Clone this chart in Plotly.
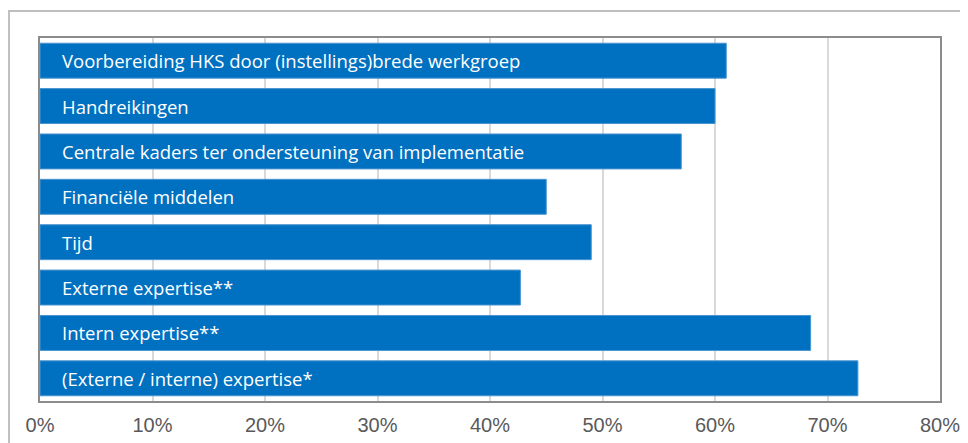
import plotly.graph_objects as go

categories = [
    "Voorbereiding HKS door (instellings)brede werkgroep",
    "Handreikingen",
    "Centrale kaders ter ondersteuning van implementatie",
    "Financiële middelen",
    "Tijd",
    "Externe expertise**",
    "Intern expertise**",
    "(Externe / interne) expertise*",
]
values = [61.0, 60.0, 57.0, 45.0, 49.0, 42.7, 68.5, 72.7]
tick_values = [0, 10, 20, 30, 40, 50, 60, 70, 80]
tick_labels = ["0%", "10%", "20%", "30%", "40%", "50%", "60%", "70%", "80%"]

fig = go.Figure()
fig.add_trace(go.Bar(
    x=values,
    y=categories,
    orientation="h",
    marker=dict(color="#0070C0", line=dict(color="#4A95D0", width=1)),
    hoverinfo="x+y",
))

for cat in categories:
    fig.add_annotation(
        x=0, y=cat, xref="x", yref="y",
        text=cat, showarrow=False,
        xanchor="left", yanchor="middle", xshift=20,
        font=dict(family="Open Sans", size=18.5, color="white"),
    )

fig.update_layout(
    width=960, height=435,
    margin=dict(l=32, r=28, t=30, b=42),
    paper_bgcolor="white",
    plot_bgcolor="white",
    bargap=0.23,
    showlegend=False,
    xaxis=dict(
        range=[0, 80],
        tickvals=tick_values,
        ticktext=tick_labels,
        showgrid=True,
        gridcolor="#D9D9D9",
        gridwidth=1.5,
        zeroline=False,
        showline=True,
        linecolor="#8C8C8C",
        linewidth=1.5,
        mirror=True,
        ticks="outside",
        ticklen=5,
        tickcolor="rgba(0,0,0,0)",
        tickfont=dict(family="Liberation Sans, Arial", size=20, color="#595959"),
        automargin=False,
        ticklabeloverflow="allow",
    ),
    yaxis=dict(
        autorange="reversed",
        showticklabels=False,
        showgrid=False,
        zeroline=False,
        showline=True,
        linecolor="#8C8C8C",
        linewidth=1.5,
        mirror=True,
        ticks="",
        automargin=False,
    ),
    shapes=[dict(
        type="rect", xref="paper", yref="paper",
        x0=-0.0344, x1=1.2, y0=-0.3, y1=1.0744,
        line=dict(color="#BFBFBF", width=2),
        fillcolor="rgba(0,0,0,0)",
        layer="below",
    )],
)

fig.write_html("out.html")
